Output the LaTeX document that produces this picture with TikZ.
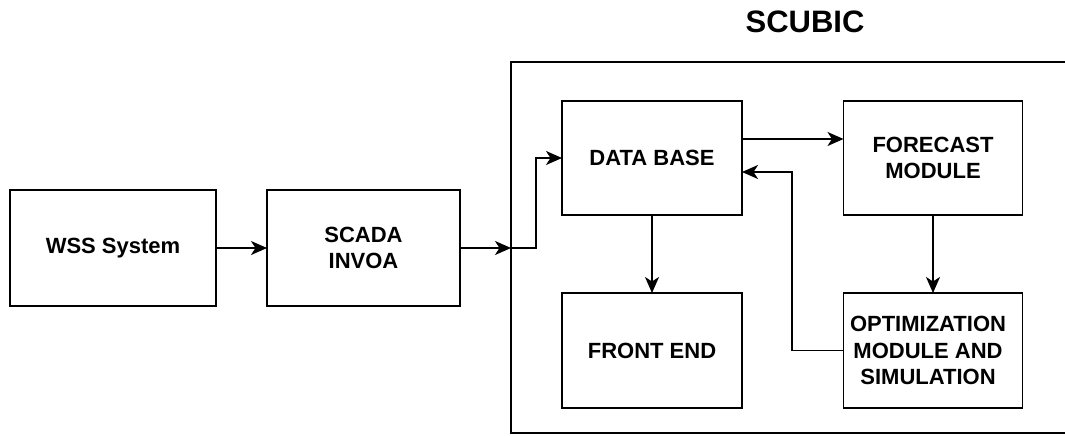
\documentclass[tikz,border=0pt]{standalone}
\usepackage{fontspec}
\setmainfont{Liberation Sans}
\usetikzlibrary{arrows.meta}
\tikzset{
  blk/.style={draw, line width=1.8pt, rectangle, inner sep=0pt, outer sep=0pt,
    align=center, font=\bfseries\fontsize{22}{26.5}\selectfont},
  conn/.style={draw, line width=1.8pt,
    -{Stealth[length=16pt,width=14pt,inset=4.5pt]}},
  title/.style={font=\bfseries\fontsize{31}{36}\selectfont}
}
\begin{document}
\begin{tikzpicture}[x=1pt,y=-1pt]
\clip (0,0) rectangle (1065,436);
\fill[white] (0,0) rectangle (1065,436);

% outer system frame and its caption
\node[blk, minimum width=569pt, minimum height=371pt] (scubic) at (795.5,247.5) {};
\node[title] (scubictitle) at (805,22) {SCUBIC};

% external blocks
\node[blk, minimum width=206pt, minimum height=116pt] (wss) at (113,248) {WSS System};
\node[blk, minimum width=193pt, minimum height=116pt] (scada) at (363.5,248) {SCADA\\INVOA};

% inner modules
\node[blk, minimum width=180pt, minimum height=114pt] (db) at (652,158) {DATA BASE};
\node[blk, minimum width=179pt, minimum height=114pt] (fc) at (933,158) {FORECAST\\MODULE};
\node[blk, minimum width=180pt, minimum height=115pt] (fe) at (652,350.5) {FRONT END};
\node[blk, minimum width=179pt, minimum height=115pt] (opt) at (933,350.5) {};
\node[font=\bfseries\fontsize{22}{26.5}\selectfont, align=center] (optlabel)
  at (928,350.5) {OPTIMIZATION\\MODULE AND\\SIMULATION};

% connectors
\coordinate (bend) at (536,248);
\coordinate (ret) at (792,172);
\draw[conn] (wss) -- (scada);
\draw[conn] (scada.east) -- (scada.east -| scubic.west);
\draw[conn] (scubic.west |- scada.east) -- (bend) |- (db.west);
\draw[conn] ([yshift=19pt]db.east) -- ([yshift=19pt]fc.west);
\draw[conn] (db) -- (fe);
\draw[conn] (fc) -- (opt);
\draw[conn] (opt.west) -| (ret) -- (ret -| db.east);
\end{tikzpicture}
\end{document}
